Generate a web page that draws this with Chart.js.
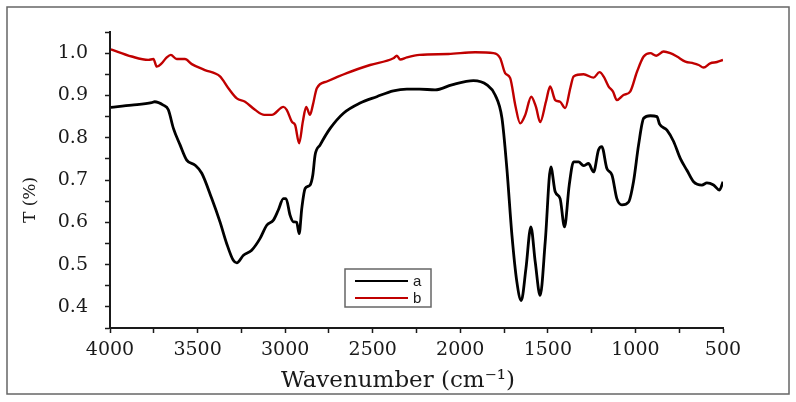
<!DOCTYPE html>
<html>
<head>
<meta charset="utf-8">
<script src="https://cdn.jsdelivr.net/npm/chart.js@4.4.0/dist/chart.umd.min.js"></script>
<style>
  html, body { margin: 0; padding: 0; background: #fff; }
  canvas { display: block; }
</style>
</head>
<body>
<canvas id="chart" width="796" height="402"></canvas>
<script>
// series a (black) - wavenumber (cm-1) and transmittance
const aWave = [3995, 3876, 3762, 3745, 3696, 3667, 3638, 3600, 3562, 3514, 3476, 3419, 3372, 3334, 3296, 3276,
  3238, 3191, 3143, 3105, 3067, 3039, 3010, 2995, 2972, 2953, 2934, 2920, 2905, 2886, 2858, 2842, 2829, 2800,
  2743, 2667, 2572, 2477, 2382, 2305, 2233, 2144, 2048, 1925, 1848, 1801, 1762, 1734, 1705, 1677, 1652, 1625,
  1597, 1572, 1544, 1515, 1483, 1458, 1430, 1405, 1378, 1353, 1325, 1296, 1268, 1239, 1211, 1192, 1163, 1134,
  1106, 1077, 1039, 1011, 982, 953, 915, 877, 862, 820, 782, 744, 706, 668, 620, 592, 554, 520, 500];
const aT = [0.872, 0.877, 0.883, 0.885, 0.877, 0.866, 0.822, 0.783, 0.747, 0.735, 0.716, 0.656, 0.601, 0.550, 0.510, 0.504,
  0.522, 0.534, 0.562, 0.593, 0.605, 0.629, 0.656, 0.656, 0.617, 0.601, 0.600, 0.573, 0.633, 0.680, 0.688, 0.712, 0.759, 0.783,
  0.822, 0.858, 0.882, 0.897, 0.911, 0.915, 0.915, 0.913, 0.925, 0.935, 0.925, 0.901, 0.846, 0.727, 0.569, 0.459, 0.415, 0.491,
  0.589, 0.506, 0.427, 0.554, 0.731, 0.672, 0.656, 0.589, 0.688, 0.743, 0.743, 0.734, 0.739, 0.719, 0.771, 0.779, 0.727, 0.712,
  0.656, 0.641, 0.648, 0.696, 0.783, 0.846, 0.852, 0.850, 0.832, 0.818, 0.791, 0.751, 0.723, 0.696, 0.688, 0.693, 0.688, 0.676, 0.696];

// series b (red)
const bWave = [3995, 3876, 3781, 3752, 3733, 3705, 3676, 3653, 3619, 3572, 3533, 3458, 3372, 3324, 3276, 3229,
  3172, 3119, 3076, 3010, 2991, 2962, 2943, 2920, 2899, 2880, 2858, 2842, 2819, 2762, 2648, 2515, 2382, 2362,
  2343, 2305, 2233, 2068, 1915, 1810, 1772, 1744, 1715, 1686, 1658, 1629, 1595, 1568, 1544, 1511, 1487, 1458,
  1430, 1401, 1372, 1353, 1296, 1239, 1205, 1182, 1153, 1128, 1106, 1068, 1030, 991, 953, 915, 881, 839, 801,
  763, 715, 668, 639, 611, 573, 534, 500];
const bT = [1.009, 0.992, 0.984, 0.986, 0.968, 0.976, 0.990, 0.996, 0.986, 0.986, 0.974, 0.960, 0.945, 0.917, 0.893, 0.885,
  0.866, 0.854, 0.854, 0.873, 0.866, 0.838, 0.830, 0.787, 0.838, 0.873, 0.854, 0.877, 0.917, 0.933, 0.953, 0.972, 0.988, 0.994,
  0.985, 0.990, 0.996, 0.998, 1.002, 1.000, 0.988, 0.953, 0.941, 0.877, 0.834, 0.854, 0.897, 0.873, 0.837, 0.885, 0.921, 0.889,
  0.885, 0.870, 0.917, 0.945, 0.950, 0.942, 0.955, 0.945, 0.921, 0.909, 0.889, 0.901, 0.909, 0.956, 0.992, 1.000, 0.994, 1.004, 1.000,
  0.992, 0.980, 0.976, 0.972, 0.966, 0.976, 0.979, 0.984];

const seriesLabels = ['a', 'b'];
const xTitle = 'Wavenumber (cm\u207B\u00B9)';
const yTitle = 'T (%)';

const toPoints = (xs, ys) => xs.map((x, i) => ({ x: x, y: ys[i] }));

const serif = 'DejaVu Serif';
const ink = '#1a1a1a';

// frame, axis titles and the boxed legend
const decor = {
  id: 'decor',
  afterDraw(chart) {
    const ctx = chart.ctx;
    ctx.save();
    ctx.strokeStyle = '#666';
    ctx.lineWidth = 1.5;
    ctx.strokeRect(7, 7, 782, 387);

    ctx.fillStyle = ink;
    ctx.font = '23px "' + serif + '"';
    ctx.textAlign = 'center';
    ctx.textBaseline = 'alphabetic';
    ctx.fillText(xTitle, 398, 387);

    ctx.translate(31, 200);
    ctx.rotate(-Math.PI / 2);
    ctx.font = '17px "' + serif + '"';
    ctx.textBaseline = 'middle';
    ctx.fillText(yTitle, 0, 0);
    ctx.restore();

    ctx.save();
    ctx.fillStyle = '#fff';
    ctx.fillRect(345, 269, 86, 38);
    ctx.strokeStyle = '#666';
    ctx.lineWidth = 1.5;
    ctx.strokeRect(345, 269, 86, 38);
    ctx.font = '15px "Liberation Sans"';
    ctx.textAlign = 'left';
    ctx.textBaseline = 'middle';
    chart.data.datasets.forEach((ds, i) => {
      const y = 281 + i * 17;
      ctx.strokeStyle = ds.borderColor;
      ctx.lineWidth = 2;
      ctx.beginPath();
      ctx.moveTo(355, y);
      ctx.lineTo(408, y);
      ctx.stroke();
      ctx.fillStyle = ink;
      ctx.fillText(ds.label, 413, y + 1);
    });
    ctx.restore();
  }
};

new Chart(document.getElementById('chart').getContext('2d'), {
  type: 'line',
  data: {
    datasets: [{
      label: seriesLabels[0],
      data: toPoints(aWave, aT),
      borderColor: '#000000',
      borderWidth: 2.8
    }, {
      label: seriesLabels[1],
      data: toPoints(bWave, bT),
      borderColor: '#c00000',
      borderWidth: 2.4
    }]
  },
  options: {
    responsive: false,
    animation: false,
    layout: { padding: { left: 0, right: 73, top: 32, bottom: 0 } },
    elements: {
      point: { radius: 0 },
      line: { cubicInterpolationMode: 'monotone', fill: false }
    },
    plugins: {
      legend: { display: false },
      tooltip: { enabled: false }
    },
    scales: {
      x: {
        type: 'linear',
        reverse: true,
        min: 500,
        max: 4000,
        afterFit: s => { s.height = 74; },
        ticks: {
          stepSize: 250,
          autoSkip: false,
          maxRotation: 0,
          padding: 6,
          color: ink,
          font: { family: serif, size: 19 },
          callback: v => (v % 500 === 0 ? String(v) : '')
        },
        grid: { drawOnChartArea: false, tickLength: 5, tickColor: ink, tickWidth: 1.5 },
        border: { display: true, color: ink, width: 2 }
      },
      y: {
        min: 0.35,
        max: 1.05,
        afterFit: s => { s.width = 110; },
        ticks: {
          stepSize: 0.05,
          autoSkip: false,
          padding: 17,
          color: ink,
          font: { family: serif, size: 19 },
          callback: v => (Math.round(v * 100) % 10 === 0 ? v.toFixed(1) : '')
        },
        grid: { drawOnChartArea: false, tickLength: 5, tickColor: ink, tickWidth: 1.5 },
        border: { display: true, color: ink, width: 2 }
      }
    }
  },
  plugins: [decor]
});
</script>
</body>
</html>
